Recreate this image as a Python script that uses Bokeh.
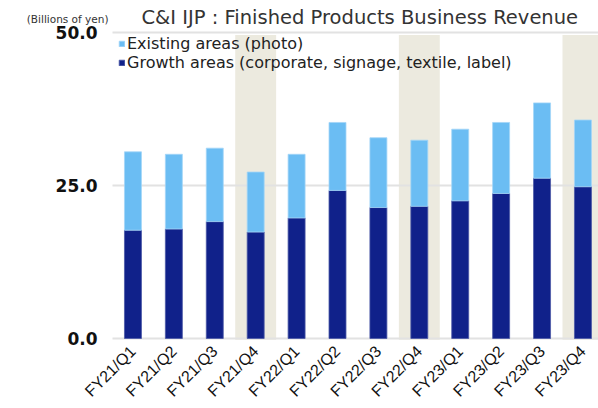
import math
from bokeh.plotting import figure
from bokeh.models import Range1d, FixedTicker, Label, Legend, LegendItem, ColumnDataSource
from bokeh.core.properties import value
from bokeh.embed import file_html
from bokeh.resources import INLINE

title_text = "C&I IJP : Finished Products Business Revenue"
unit_text = "(Billions of yen)"
categories = ["FY21/Q1", "FY21/Q2", "FY21/Q3", "FY21/Q4",
              "FY22/Q1", "FY22/Q2", "FY22/Q3", "FY22/Q4",
              "FY23/Q1", "FY23/Q2", "FY23/Q3", "FY23/Q4"]
growth = [17.7, 17.9, 19.1, 17.4, 19.7, 24.2, 21.4, 21.6, 22.5, 23.7, 26.2, 24.8]
total = [30.5, 30.1, 31.1, 27.2, 30.1, 35.3, 32.8, 32.4, 34.2, 35.3, 38.5, 35.7]
existing = [round(t - g, 1) for t, g in zip(total, growth)]
shaded = ["FY21/Q4", "FY22/Q4", "FY23/Q4"]
y_ticks = [0, 25, 50]
y_tick_labels = ["0.0", "25.0", "50.0"]

# ---- geometry (pixels) ----
W, H = 598, 408
PLOT_L = 112            # left edge of the bar area
ZERO_PX, TOP_PX = 338, 32   # canvas rows of value 0 and value 50
FRAME_B = 349           # bottom of the drawing frame
CAT_W = 40.909          # px per category
PX_PER_Y = (ZERO_PX - TOP_PX) / 50.0
x_lo = -0.5 - PLOT_L / CAT_W
x_hi = -0.5 + (W - PLOT_L) / CAT_W
y_hi = 50.0 + TOP_PX / PX_PER_Y
y_lo = -(FRAME_B - ZERO_PX) / PX_PER_Y

def y_at(px):   # data y for a canvas row (from top)
    return y_hi - px / PX_PER_Y

def x_at(px):   # data x for a canvas column
    return x_lo + px / CAT_W

xs = list(range(len(categories)))
p = figure(width=W, height=H, output_backend="svg", toolbar_location=None,
           x_range=Range1d(x_lo, x_hi), y_range=Range1d(y_lo, y_hi),
           y_axis_type=None,
           min_border_left=0, min_border_right=0, min_border_top=0,
           min_border_bottom=H - FRAME_B)
p.outline_line_color = None
p.grid.visible = False

# shaded Q4 bands
bx = [categories.index(c) for c in shaded]
band = p.vbar(x=bx, width=1.0, bottom=-0.2, top=49.6, fill_color="#ECEADF", line_color=None)
band.level = "image"

# horizontal grid lines at the y ticks
grid = p.segment(x0=[-0.5] * len(y_ticks), x1=[x_hi] * len(y_ticks), y0=y_ticks, y1=y_ticks,
                 line_color="#E2E2E2", line_width=2)
grid.level = "underlay"

# stacked bars
src = ColumnDataSource(dict(x=xs, growth=growth, total=total, existing=existing))
r_g = p.vbar(x="x", width=0.415, bottom=0, top="growth", source=src,
             fill_color="#10218A", line_color="#4A58A6", line_width=0.8)
r_e = p.vbar(x="x", width=0.415, bottom="growth", top="total", source=src,
             fill_color="#6BBDF3", line_color="#A3D6F8", line_width=0.8)

# y tick labels (value axis)
p.text(x=[-0.5] * len(y_ticks), y=y_ticks, text=y_tick_labels, x_offset=-15,
       text_align="right", text_baseline="middle",
       text_font=value("DejaVu Sans"), text_font_style="bold",
       text_font_size="17px", text_color="#111111")

# category axis
p.xaxis.ticker = FixedTicker(ticks=xs)
p.xaxis.major_label_overrides = {i: c for i, c in enumerate(categories)}
p.xaxis.major_label_orientation = math.pi / 4
p.xaxis.major_label_text_font = "Liberation Sans"
p.xaxis.major_label_text_font_size = "16px"
p.xaxis.major_label_text_color = "#111111"
p.xaxis.axis_line_color = None
p.xaxis.major_tick_line_color = None
p.xaxis.minor_tick_line_color = None
p.xaxis.major_tick_in = 0
p.xaxis.major_tick_out = 0
p.xaxis.major_label_standoff = -1

# unit and title
p.add_layout(Label(x=-0.5, y=y_at(18.5), x_offset=-4, text=unit_text,
                   text_font="DejaVu Sans", text_font_size="10.5px", text_color="#333333",
                   text_baseline="middle", text_align="right"))
p.add_layout(Label(x=x_at(141), y=y_at(17), text=title_text,
                   text_font="DejaVu Sans", text_font_size="19.5px", text_color="#333333",
                   text_baseline="middle", text_align="left"))

legend = Legend(items=[LegendItem(label="Existing areas (photo)", renderers=[r_e]),
                       LegendItem(label="Growth areas (corporate, signage, textile, label)", renderers=[r_g])],
                location=(118, FRAME_B - 36 - 36))
legend.background_fill_alpha = 0
legend.border_line_color = None
legend.padding = 0
legend.margin = 0
legend.spacing = 0
legend.glyph_width = 7
legend.glyph_height = 7
legend.label_height = 18
legend.label_standoff = 2
legend.label_text_font = "DejaVu Sans"
legend.label_text_font_size = "16px"
legend.label_text_color = "#222222"
legend.label_text_baseline = "middle"
p.add_layout(legend)

open("out.html", "w").write(file_html(p, INLINE))
